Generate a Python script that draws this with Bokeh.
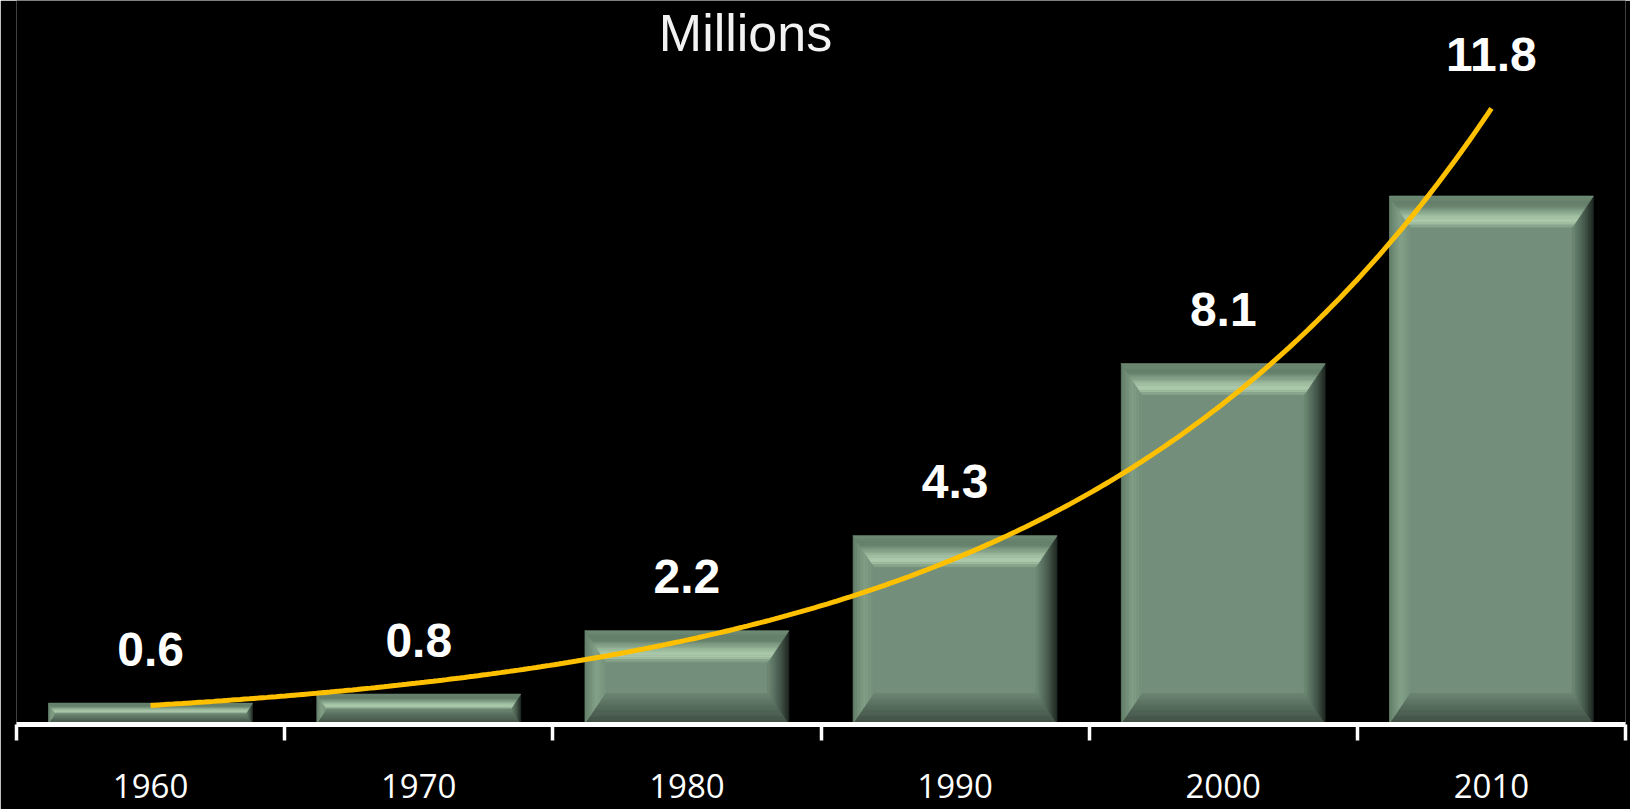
import numpy as np
from bokeh.plotting import figure
from bokeh.models import FixedTicker, Label, Range1d, ColumnDataSource
from bokeh.core.properties import value
from bokeh.embed import file_html
from bokeh.resources import INLINE

# Population by census decade (millions)
years = ["1960", "1970", "1980", "1990", "2000", "2010"]
population = [0.6, 0.8, 2.2, 4.3, 8.1, 11.8]
value_labels = ["0.6", "0.8", "2.2", "4.3", "8.1", "11.8"]
unit_title = "Millions"

# Canvas and frame geometry
W, H = 1630, 809
BORDER_LEFT, BORDER_RIGHT, BORDER_TOP, BORDER_BOTTOM = 16, 5, 0, 85
Y_START, Y_END = 0.13, 16.12

LABEL_FONT = "Liberation Sans"
TICK_FONT = "Open Sans"

p = figure(
    width=W, height=H,
    x_range=Range1d(0, len(years)), y_range=Range1d(Y_START, Y_END),
    output_backend="svg", toolbar_location=None,
    y_axis_location=None, x_axis_location="below",
    min_border_left=BORDER_LEFT, min_border_right=BORDER_RIGHT,
    min_border_top=BORDER_TOP, min_border_bottom=BORDER_BOTTOM,
    background_fill_color="black", border_fill_color="black",
    outline_line_color=None,
)
p.grid.visible = False

n = len(years)
centers = np.arange(n) + 0.5
vals = np.array(population)

# pixel scale of the frame, used to size the bevels in screen pixels
frame_w = W - BORDER_LEFT - BORDER_RIGHT
frame_h = H - BORDER_TOP - BORDER_BOTTOM
px_x = frame_w / n
px_y = frame_h / (Y_END - Y_START)

BAR_W = 0.76
BEVEL_V_PX, BEVEL_H_PX = 31.0, 21.0
SLICES = 14


def ramp(stops, t):
    ts = [s[0] for s in stops]
    rgb = [np.interp(t, ts, [s[1][k] for s in stops]) for k in range(3)]
    return "#%02x%02x%02x" % tuple(int(round(c)) for c in rgb)


FACE = "#738f7b"
TOP_STOPS = [(0.0, (110, 138, 117)), (0.3, (100, 127, 106)), (0.62, (155, 186, 157)),
             (0.8, (176, 205, 176)), (0.93, (152, 182, 154)), (1.0, (120, 148, 126))]
BOTTOM_STOPS = [(0.0, (62, 78, 66)), (0.5, (84, 104, 89)), (1.0, (108, 134, 115))]
LEFT_STOPS = [(0.0, (100, 127, 106)), (0.55, (132, 162, 137)), (1.0, (118, 146, 124))]
RIGHT_STOPS = [(0.0, (30, 38, 32)), (0.45, (72, 92, 78)), (1.0, (112, 140, 119))]

pxs, pys, cols = [], [], []
face_l, face_r, face_b, face_t = [], [], [], []
for c, v in zip(centers, vals):
    x0, x1 = c - BAR_W / 2, c + BAR_W / 2
    y0, y1 = Y_START, v
    h_px = (y1 - y0) * px_y
    bv_px = min(BEVEL_V_PX, h_px / 2)
    bh_px = bv_px * BEVEL_H_PX / BEVEL_V_PX
    bv, bh = bv_px / px_y, bh_px / px_x
    for i in range(SLICES):
        ta, tb = i / SLICES, (i + 1) / SLICES
        tm = (ta + tb) / 2
        # left bevel
        pxs.append([x0 + bh * ta, x0 + bh * tb, x0 + bh * tb, x0 + bh * ta])
        pys.append([y1 - bv * ta, y1 - bv * tb, y0 + bv * tb, y0 + bv * ta])
        cols.append(ramp(LEFT_STOPS, tm))
        # right bevel
        pxs.append([x1 - bh * ta, x1 - bh * tb, x1 - bh * tb, x1 - bh * ta])
        pys.append([y1 - bv * ta, y1 - bv * tb, y0 + bv * tb, y0 + bv * ta])
        cols.append(ramp(RIGHT_STOPS, tm))
    for i in range(SLICES):
        ta, tb = i / SLICES, (i + 1) / SLICES
        tm = (ta + tb) / 2
        # top bevel
        pxs.append([x0 + bh * ta, x1 - bh * ta, x1 - bh * tb, x0 + bh * tb])
        pys.append([y1 - bv * ta, y1 - bv * ta, y1 - bv * tb, y1 - bv * tb])
        cols.append(ramp(TOP_STOPS, tm))
        # bottom bevel
        pxs.append([x0 + bh * ta, x1 - bh * ta, x1 - bh * tb, x0 + bh * tb])
        pys.append([y0 + bv * ta, y0 + bv * ta, y0 + bv * tb, y0 + bv * tb])
        cols.append(ramp(BOTTOM_STOPS, tm))
    face_l.append(x0 + bh)
    face_r.append(x1 - bh)
    face_b.append(y0 + bv)
    face_t.append(y1 - bv)

# flat face of every bar
p.quad(left=face_l, right=face_r, bottom=face_b, top=face_t,
       fill_color=FACE, line_color=FACE, line_width=0.8)
# bevelled rims
p.patches(xs=pxs, ys=pys, fill_color=cols, line_color=cols, line_width=0.8)

# exponential trend line fitted to the decade values
slope, intercept = np.polyfit(np.arange(n), np.log(vals), 1)
tx = np.linspace(centers[0], centers[-1], 300)
ty = np.exp(intercept + slope * (tx - 0.5))
p.line(tx, ty, line_color="#ffc000", line_width=5)

# value labels, lifted above the trend line where it rises well over a bar
trend_at_bars = np.exp(intercept + slope * np.arange(n))
LABEL_GAP_PX = 38
lift = trend_at_bars > vals + LABEL_GAP_PX / px_y
label_y = np.where(lift, trend_at_bars, vals)
src = ColumnDataSource(dict(x=centers, y=label_y, t=value_labels))
p.text(x="x", y="y", text="t", source=src, y_offset=-(LABEL_GAP_PX + 16),
       text_align="center", text_baseline="alphabetic",
       text_color="white", text_font_size="48px", text_font_style="bold",
       text_font=value(LABEL_FONT))

# category axis: labels at bar centres, ticks at category boundaries
ax = p.xaxis[0]
ax.ticker = FixedTicker(ticks=list(centers), minor_ticks=list(range(n + 1)))
ax.major_label_overrides = {float(c): y for c, y in zip(centers, years)}
ax.axis_line_color = "white"
ax.axis_line_width = 5
ax.major_tick_in = 0
ax.major_tick_out = 0
ax.minor_tick_in = 0
ax.minor_tick_out = 16
ax.minor_tick_line_color = "white"
ax.minor_tick_line_width = 3.5
ax.major_label_text_color = "white"
ax.major_label_text_font = TICK_FONT
ax.major_label_text_font_size = "33px"
ax.major_label_standoff = 33

p.add_layout(Label(x=729, y=692, x_units="screen", y_units="screen",
                   text=unit_title, text_align="center", text_baseline="alphabetic",
                   text_color="#f2f2f2", text_font="Liberation Sans",
                   text_font_size="52px"))

open("out.html", "w").write(file_html(p, INLINE))
